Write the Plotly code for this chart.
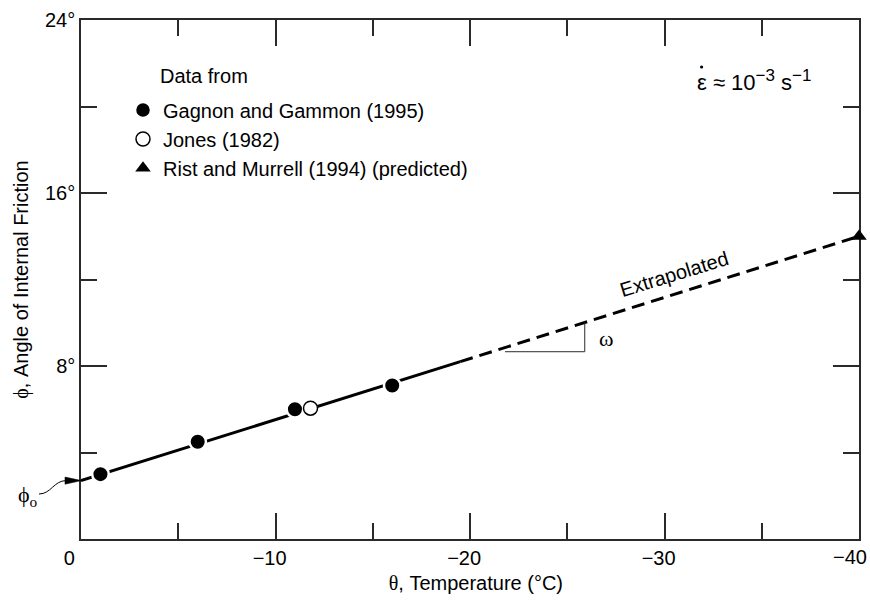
import plotly.graph_objects as go

# ---- data ----
gg_temp = [-1.0, -6.0, -11.0, -16.0]
gg_phi = [3.0, 4.5, 6.0, 7.1]
jones_temp = [-11.8]
jones_phi = [6.05]
rm_temp = [-40.0]
rm_phi = [14.0]
fit_solid_temp = [0.0, -19.5]
fit_solid_phi = [2.7, 8.2]
fit_dash_temp = [-19.5, -40.0]
fit_dash_phi = [8.2, 14.0]
phi0 = 2.7

# invisible padding keeps the digits centred on the tick while the minus sign hangs left
HID = "<span style='color:rgba(255,255,255,0)'>{}</span>"
x_tickvals = [0, -10, -20, -30, -40]
x_ticktext = ["0" + HID.format("\u2212\u2212"),
              "\u221210" + HID.format("\u2212"),
              "\u221220" + HID.format("\u2212"),
              "\u221230" + HID.format("\u2212"),
              ""]                      # the last label is drawn right-aligned at the edge
x_last_label = "\u221240"
x_minor = [-5, -15, -25, -35]
y_tickvals = [0, 8, 16, 24]
y_ticktext = ["", "8°", "16°", "24°"]
y_minor = [4, 12, 20]

# slope triangle (omega) in data units
omega_T = [-21.8, -25.9]
omega_phi = [8.66, 10.02]

# ---- layout geometry (reference pixels; page body margin removed below) ----
W, H = 870, 601
L, R, T, B = 81, 859, 20, 539
SANS = "Liberation Sans, Arial, sans-serif"
SERIF = "Liberation Serif, Times New Roman, serif"
AX = "#2a2a2a"


def px(X):
    return (X - L) / (R - L)


def py(Y):
    return (B - Y) / (B - T)


fig = go.Figure()

fig.add_trace(go.Scatter(x=fit_solid_temp, y=fit_solid_phi, mode="lines",
                         line=dict(color="black", width=3), showlegend=False,
                         cliponaxis=False, hoverinfo="skip"))
fig.add_trace(go.Scatter(x=fit_dash_temp, y=fit_dash_phi, mode="lines",
                         line=dict(color="black", width=3, dash="13px,7px"),
                         showlegend=False, cliponaxis=False, hoverinfo="skip"))
fig.add_trace(go.Scatter(x=gg_temp, y=gg_phi, mode="markers",
                         name="Gagnon and Gammon (1995)",
                         marker=dict(symbol="circle", size=16.5, color="black",
                                     line=dict(color="white", width=2.5)),
                         cliponaxis=False))
fig.add_trace(go.Scatter(x=jones_temp, y=jones_phi, mode="markers",
                         name="Jones (1982)",
                         marker=dict(symbol="circle", size=14, color="white",
                                     line=dict(color="black", width=1.5)),
                         cliponaxis=False))
fig.add_trace(go.Scatter(x=rm_temp, y=rm_phi, mode="markers",
                         name="Rist and Murrell (1994) (predicted)",
                         marker=dict(symbol="triangle-up", size=13.5, color="black",
                                     line=dict(color="black", width=0)),
                         cliponaxis=False))

shapes = []
# omega slope triangle
shapes.append(dict(type="line", xref="x", yref="y", x0=omega_T[0], x1=omega_T[1],
                   y0=omega_phi[0], y1=omega_phi[0], line=dict(color=AX, width=1)))
shapes.append(dict(type="line", xref="x", yref="y", x0=omega_T[1], x1=omega_T[1],
                   y0=omega_phi[0], y1=omega_phi[1], line=dict(color=AX, width=1)))

# phi_o curly arrow (drawn in paper coordinates, left of the axis)
tipY = B - phi0 * (B - T) / 24.0
curve = "M {:.4f},{:.4f} C {:.4f},{:.4f} {:.4f},{:.4f} {:.4f},{:.4f}".format(
    px(39), py(494), px(51), py(494), px(54), py(tipY), px(66), py(tipY))
shapes.append(dict(type="path", xref="paper", yref="paper", path=curve,
                   line=dict(color="black", width=1)))
head = "M {:.4f},{:.4f} L {:.4f},{:.4f} L {:.4f},{:.4f} Z".format(
    px(65), py(tipY - 3.6), px(81.5), py(tipY), px(65), py(tipY + 3.6))
shapes.append(dict(type="path", xref="paper", yref="paper", path=head,
                   fillcolor="black", line=dict(color="black", width=0.5)))
# dot over the epsilon (strain rate)
shapes.append(dict(type="circle", xref="paper", yref="paper",
                   x0=px(700), x1=px(703.2), y0=py(65.4), y1=py(68.6),
                   fillcolor="black", line=dict(color="black", width=0)))

SUP = "<sup><span style='font-size:17px'>{}</span></sup>"
annotations = [
    dict(text="Data from", xref="paper", yref="paper", x=px(158), y=py(76),
         xanchor="left", yanchor="middle", showarrow=False,
         font=dict(family=SANS, size=20, color="black")),
    dict(text="\u03b5 \u2248 10" + SUP.format("\u22123") + " s" + SUP.format("\u22121"),
         xref="paper", yref="paper", x=px(695), y=py(81),
         xanchor="left", yanchor="middle", showarrow=False,
         font=dict(family=SANS, size=22, color="black")),
    dict(text="Extrapolated", xref="x", yref="y", x=-30.5, y=2.7 + 0.2825 * 30.5,
         yshift=20, textangle=-17, showarrow=False,
         font=dict(family=SANS, size=20, color="black")),
    dict(text="\u03c9", xref="x", yref="y", x=-27.0, y=9.25, showarrow=False,
         font=dict(family=SERIF, size=22, color="black")),
    dict(text="\u03d5<sub>o</sub>", xref="paper", yref="paper", x=px(28), y=py(496),
         xanchor="center", yanchor="middle", showarrow=False,
         font=dict(family=SERIF, size=22, color="black")),
    # last x tick label, kept inside the page
    dict(text=x_last_label, xref="paper", yref="paper", x=px(869), y=py(557),
         xanchor="right", yanchor="middle", showarrow=False,
         font=dict(family=SANS, size=20, color="black")),
]

fig.update_layout(
    width=W, height=H,
    margin=dict(l=L, r=W - R, t=T, b=H - B, autoexpand=False),
    paper_bgcolor="white", plot_bgcolor="white",
    font=dict(family=SANS, size=20, color="black"),
    shapes=shapes, annotations=annotations,
    legend=dict(x=px(123), y=py(90.5), xanchor="left", yanchor="top",
                bgcolor="rgba(0,0,0,0)", font=dict(family=SANS, size=20),
                tracegroupgap=6.5, itemclick=False),
)

fig.update_xaxes(
    range=[0, -40], showgrid=False, zeroline=False,
    showline=True, linecolor=AX, linewidth=1.5, mirror="ticks",
    ticks="inside", ticklen=26, tickwidth=1.5, tickcolor=AX,
    tickvals=x_tickvals, ticktext=x_ticktext,
    tickfont=dict(family=SANS, size=20, color="black"),
    minor=dict(tickvals=x_minor, ticks="inside", ticklen=16, tickwidth=1.5,
               tickcolor=AX, showgrid=False),
    title=dict(text=HID.format("\u2212") + "<span style='font-family:Liberation Serif'>\u03b8</span>, Temperature (°C)",
               font=dict(family=SANS, size=20, color="black"), standoff=8),
    automargin=False, layer="below traces",
)
fig.update_yaxes(
    range=[0, 24], showgrid=False, zeroline=False,
    showline=True, linecolor=AX, linewidth=1.5, mirror="ticks",
    ticks="inside", ticklen=26, tickwidth=1.5, tickcolor=AX,
    tickvals=y_tickvals, ticktext=y_ticktext,
    tickfont=dict(family=SANS, size=20, color="black"),
    minor=dict(tickvals=y_minor, ticks="inside", ticklen=16, tickwidth=1.5,
               tickcolor=AX, showgrid=False),
    title=dict(text="<span style='font-family:Liberation Serif'>\u03d5</span>, Angle of Internal Friction",
               font=dict(family=SANS, size=20, color="black"), standoff=11),
    automargin=False, layer="below traces",
)

# remove the default page margin so the 870x601 figure fills the window exactly
page_css = ("document.body.style.margin='0';"
            "document.body.style.overflow='hidden';"
            "document.documentElement.style.overflow='hidden';")
fig.write_html("out.html", post_script=page_css,
               config={"displayModeBar": False, "staticPlot": False})
